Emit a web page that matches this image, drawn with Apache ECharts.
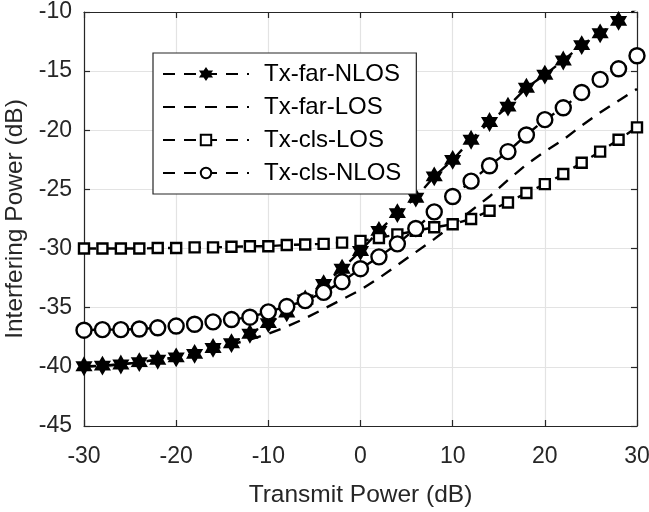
<!DOCTYPE html>
<html>
<head>
<meta charset="utf-8">
<script src="https://cdn.jsdelivr.net/npm/echarts@6/dist/echarts.min.js"></script>
<style>
  html, body { margin: 0; padding: 0; background: #fff; }
  #chart { width: 649px; height: 512px; }
</style>
</head>
<body>
<div id="chart"></div>
<script>
// Transmit power sweep (dB), one sample every 2 dB
const txPower = [-30, -28, -26, -24, -22, -20, -18, -16, -14, -12, -10, -8, -6, -4, -2,
  0, 2, 4, 6, 8, 10, 12, 14, 16, 18, 20, 22, 24, 26, 28, 30];

// Interfering power (dB) for each scenario
const txFarNLOS = [-39.95, -39.9, -39.8, -39.6, -39.4, -39.2, -38.9, -38.4, -38.0, -37.2, -36.3,
  -35.4, -34.3, -33.0, -31.7, -30.2, -28.5, -27.0, -25.7, -23.9, -22.5, -20.8, -19.3, -18.0,
  -16.4, -15.3, -14.1, -12.8, -11.8, -10.75, -9.7];
const txFarLOS = [-40.0, -39.9, -39.8, -39.6, -39.4, -39.2, -38.9, -38.5, -38.1, -37.7, -37.2,
  -36.6, -35.9, -35.1, -34.3, -33.5, -32.5, -31.4, -30.3, -29.2, -28.0, -26.8, -25.6, -24.2,
  -22.9, -21.8, -20.8, -19.6, -18.5, -17.5, -16.5];
const txClsLOS = [-30.0, -30.0, -30.0, -30.0, -29.95, -29.95, -29.9, -29.9, -29.85, -29.8, -29.8,
  -29.7, -29.65, -29.6, -29.5, -29.35, -29.1, -28.8, -28.5, -28.2, -27.95, -27.5, -26.8, -26.1,
  -25.3, -24.55, -23.7, -22.75, -21.8, -20.8, -19.75];
const txClsNLOS = [-36.9, -36.85, -36.85, -36.8, -36.7, -36.55, -36.4, -36.2, -36.0, -35.8,
  -35.35, -34.9, -34.4, -33.7, -32.8, -31.7, -30.7, -29.6, -28.3, -26.9, -25.6, -24.3, -23.0,
  -21.8, -20.4, -19.1, -18.1, -16.8, -15.7, -14.8, -13.7];

const xTicks = [-30, -20, -10, 0, 10, 20, 30];
const yTicks = [-45, -40, -35, -30, -25, -20, -15, -10];

const names = ['Tx-far-NLOS', 'Tx-far-LOS', 'Tx-cls-LOS', 'Tx-cls-NLOS'];

const pairs = ys => txPower.map((x, i) => [x, ys[i]]);

const hexagram = 'path://M0,-10L2.887,-5L8.66,-5L5.774,0L8.66,5L2.887,5L0,10L-2.887,5L-8.66,5L-5.774,0L-8.66,-5L-2.887,-5Z';

const ink = '#262626';
const dash = [12, 9];
const fontFam = '"Liberation Sans", Arial, Helvetica, sans-serif';

function lineSeries(name, ys, symbol, size, fill, stroke) {
  return {
    name: name,
    type: 'line',
    data: pairs(ys),
    xAxisIndex: 0,
    yAxisIndex: 0,
    clip: true,
    symbol: symbol,
    symbolSize: size,
    symbolKeepAspect: true,
    showSymbol: symbol !== 'none',
    lineStyle: { color: '#000', width: 2.4, type: dash },
    itemStyle: { color: fill, borderColor: stroke, borderWidth: 2.4 },
    emphasis: { disabled: true },
    animation: false,
    z: 3
  };
}

const chart = echarts.init(document.getElementById('chart'), null, { renderer: 'canvas' });

const baseX = {
  type: 'value', min: -30, max: 30, interval: 10,
  axisLine: { show: true, onZero: false, lineStyle: { color: ink, width: 1.2 } },
  axisTick: { show: true, inside: true, length: 6, lineStyle: { color: ink, width: 1.2 } }
};
const baseY = {
  type: 'value', min: -45, max: -10, interval: 5,
  axisLine: { show: true, onZero: false, lineStyle: { color: ink, width: 1.2 } },
  axisTick: { show: true, inside: true, length: 6, lineStyle: { color: ink, width: 1.2 } }
};

const clear = 'rgba(0,0,0,0)';

chart.setOption({
  backgroundColor: '#fff',
  textStyle: { fontFamily: fontFam },
  grid: { left: 84, right: 12, top: 12, bottom: 86, containLabel: false, outerBoundsMode: 'none' },
  xAxis: [
    Object.assign({}, baseX, {
      position: 'bottom',
      name: 'Transmit Power (dB)',
      nameLocation: 'middle',
      nameGap: 57,
      nameTextStyle: { color: ink, fontSize: 24.5, fontFamily: fontFam },
      axisLabel: {
        color: ink, fontSize: 23, margin: 19, fontFamily: fontFam,
        formatter: v => xTicks.includes(v) ? String(v) : ''
      },
      splitLine: { show: true, lineStyle: { color: '#e3e3e3', width: 1.2 } }
    }),
    Object.assign({}, baseX, {
      position: 'top',
      axisLabel: { show: false },
      splitLine: { show: false }
    })
  ],
  yAxis: [
    Object.assign({}, baseY, {
      position: 'left',
      name: 'Interfering Power (dB)',
      nameLocation: 'middle',
      nameGap: 47,
      nameTextStyle: { color: ink, fontSize: 24.5, fontFamily: fontFam },
      axisLabel: {
        color: ink, fontSize: 23, margin: 12, fontFamily: fontFam,
        formatter: v => yTicks.includes(v) ? String(v) : ''
      },
      splitLine: { show: true, lineStyle: { color: '#e3e3e3', width: 1.2 } }
    }),
    Object.assign({}, baseY, {
      position: 'right',
      axisLabel: { show: false },
      splitLine: { show: false }
    })
  ],
  legend: {
    orient: 'vertical',
    left: 153,
    top: 53,
    data: names,
    itemWidth: 86,
    itemHeight: 13,
    itemGap: 9,
    padding: [9, 15, 9, 9],
    backgroundColor: '#fff',
    borderColor: ink,
    borderWidth: 1.2,
    selectedMode: false,
    textStyle: { color: '#000', fontSize: 24, fontFamily: fontFam, padding: [0, 0, 0, 10] }
  },
  series: [
    lineSeries(names[0], txFarNLOS, hexagram, 15, '#000', '#000'),
    lineSeries(names[1], txFarLOS, 'none', 0, clear, clear),
    lineSeries(names[2], txClsLOS, 'rect', 10, '#fff', '#000'),
    lineSeries(names[3], txClsNLOS, 'circle', 15, '#fff', '#000')
  ]
});
</script>
</body>
</html>
